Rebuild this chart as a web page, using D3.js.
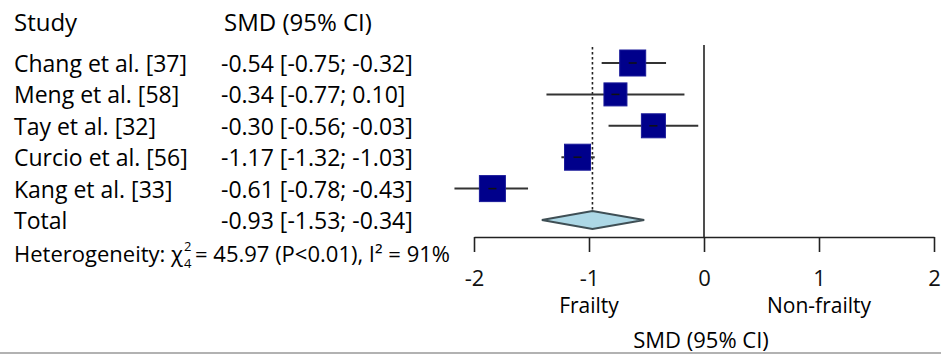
<!DOCTYPE html>
<html>
<head>
<meta charset="utf-8">
<script src="https://cdn.jsdelivr.net/npm/d3@7"></script>
<style>
  body { margin: 0; background: #fff; }
  svg { display: block; font-family: "Open Sans", sans-serif; }
</style>
</head>
<body>
<svg id="chart" width="941" height="354"></svg>
<script>
// study rows
const studies = ["Chang et al. [37]", "Meng et al. [58]", "Tay et al. [32]", "Curcio et al. [56]", "Kang et al. [33]"];
const smdLabels = ["-0.54 [-0.75; -0.32]", "-0.34 [-0.77; 0.10]", "-0.30 [-0.56; -0.03]", "-1.17 [-1.32; -1.03]", "-0.61 [-0.78; -0.43]"];
// positions as drawn in the plot
const estimates = [-0.62, -0.77, -0.44, -1.10, -1.84];
const lower = [-0.89, -1.37, -0.83, -1.24, -2.17];
const upper = [-0.33, -0.17, -0.05, -0.95, -1.53];
const weights = [26, 23, 24, 26, 26];

const totalLabel = "Total";
const totalText = "-0.93 [-1.53; -0.34]";
const totalEst = -0.97, totalLo = -1.41, totalHi = -0.52;

const ticks = [-2, -1, 0, 1, 2];

const svg = d3.select("#chart");
const x = d3.scaleLinear().domain([-2, 2]).range([474, 934]);
const y = d3.scaleLinear().domain([0, 5]).range([63, 220]);
const axisY = 237;

// header
svg.append("text").attr("x", 14).attr("y", 21).attr("dominant-baseline", "central")
  .style("font-size", "24px").text("Study");
svg.append("text").attr("x", 224).attr("y", 21).attr("dominant-baseline", "central")
  .style("font-size", "24px").text("SMD (95% CI)");

const rows = studies.map((s, i) => ({ name: s, label: smdLabels[i], est: estimates[i], lo: lower[i], hi: upper[i], w: weights[i], i: i }));

svg.selectAll("text.study").data(rows).enter().append("text")
  .attr("class", "study").attr("x", 14).attr("y", d => y(d.i))
  .attr("dominant-baseline", "central").style("font-size", "23px").text(d => d.name);
svg.selectAll("text.smd").data(rows).enter().append("text")
  .attr("class", "smd").attr("x", 221).attr("y", d => y(d.i))
  .attr("dominant-baseline", "central").style("font-size", "23px").text(d => d.label);

svg.append("text").attr("x", 14).attr("y", y(5)).attr("dominant-baseline", "central")
  .style("font-size", "23px").text(totalLabel);
svg.append("text").attr("x", 221).attr("y", y(5)).attr("dominant-baseline", "central")
  .style("font-size", "23px").text(totalText);

// heterogeneity (chi symbol with stacked super/subscript)
const hetY = 253;
const het = svg.append("text").attr("x", 14).attr("y", hetY).attr("dominant-baseline", "central")
  .style("font-size", "22px").text("Heterogeneity: χ");
const hetEnd = 14 + het.node().getComputedTextLength();
svg.append("text").attr("x", hetEnd + 1).attr("y", hetY - 7).attr("dominant-baseline", "central")
  .style("font-size", "13px").text("2");
svg.append("text").attr("x", hetEnd + 1).attr("y", hetY + 10).attr("dominant-baseline", "central")
  .style("font-size", "13px").text("4");
svg.append("text").attr("x", hetEnd + 12).attr("y", hetY).attr("dominant-baseline", "central")
  .style("font-size", "22px").text("= 45.97 (P<0.01), I² = 91%");

// zero line
svg.append("line").attr("x1", x(0)).attr("x2", x(0)).attr("y1", 45).attr("y2", axisY)
  .attr("stroke", "#222").attr("stroke-width", 1.6);
// pooled dotted line
svg.append("line").attr("x1", x(totalEst)).attr("x2", x(totalEst)).attr("y1", 47).attr("y2", y(5) - 9)
  .attr("stroke", "#222").attr("stroke-width", 1.6).attr("stroke-dasharray", "2.5,2.5");

// CI lines
svg.selectAll("line.ci").data(rows).enter().append("line")
  .attr("class", "ci").attr("x1", d => x(d.lo)).attr("x2", d => x(d.hi))
  .attr("y1", d => y(d.i)).attr("y2", d => y(d.i))
  .attr("stroke", "#333").attr("stroke-width", 2);
// squares
svg.selectAll("rect.box").data(rows).enter().append("rect")
  .attr("class", "box").attr("x", d => x(d.est) - d.w / 2).attr("y", d => y(d.i) - d.w / 2)
  .attr("width", d => d.w).attr("height", d => d.w)
  .attr("fill", "#00008b").attr("stroke", "#1a1a9a").attr("stroke-width", 1);
// small center marks
svg.selectAll("line.mark").data(rows).enter().append("line")
  .attr("class", "mark").attr("x1", d => x(d.est) - 4).attr("x2", d => x(d.est) + 4)
  .attr("y1", d => y(d.i)).attr("y2", d => y(d.i))
  .attr("stroke", "#111").attr("stroke-width", 1.5);

// diamond
const yt = y(5);
svg.append("polygon")
  .attr("points", [[x(totalLo), yt], [x(totalEst), yt - 9], [x(totalHi), yt], [x(totalEst), yt + 9]].map(p => p.join(",")).join(" "))
  .attr("fill", "#add8e6").attr("stroke", "#3f4f55").attr("stroke-width", 2);

// axis
const axis = svg.append("g").attr("transform", "translate(0," + axisY + ")")
  .call(d3.axisBottom(x).tickValues(ticks).tickSize(15).tickSizeOuter(0).tickPadding(18).tickFormat(d => String(d)));
axis.select(".domain").attr("stroke", "#222").attr("stroke-width", 1.6);
axis.selectAll(".tick line").attr("stroke", "#222").attr("stroke-width", 1.6);
axis.selectAll(".tick text").style("font-size", "22px").style("font-family", "'Open Sans', sans-serif").attr("fill", "#111");

svg.append("text").attr("x", x(-1)).attr("y", 305).attr("text-anchor", "middle")
  .attr("dominant-baseline", "central").style("font-size", "21px").text("Frailty");
svg.append("text").attr("x", x(1)).attr("y", 305).attr("text-anchor", "middle")
  .attr("dominant-baseline", "central").style("font-size", "21px").text("Non-frailty");
svg.append("text").attr("x", x(0) - 3).attr("y", 339).attr("text-anchor", "middle")
  .attr("dominant-baseline", "central").style("font-size", "22px").text("SMD (95% CI)");

svg.append("line").attr("x1", 0).attr("x2", 941).attr("y1", 353).attr("y2", 353)
  .attr("stroke", "#999").attr("stroke-width", 1.5);
</script>
</body>
</html>
